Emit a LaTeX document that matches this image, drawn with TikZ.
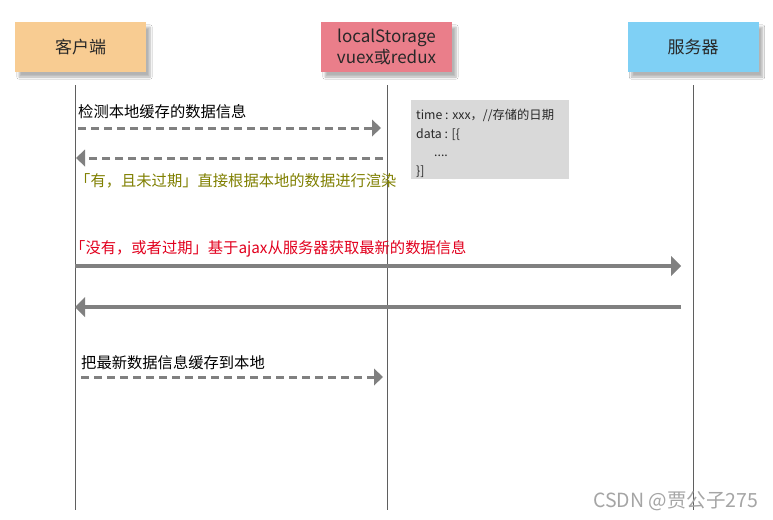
\documentclass[tikz,border=0pt]{standalone}
\usepackage{fontspec}
\setmainfont{Noto Sans CJK SC}
\usetikzlibrary{arrows.meta,shadows.blur}
\definecolor{clientc}{RGB}{248,204,146}
\definecolor{storec}{RGB}{234,126,138}
\definecolor{serverc}{RGB}{127,208,245}
\definecolor{txt}{RGB}{40,40,40}
\definecolor{arrc}{RGB}{128,128,128}
\definecolor{lifec}{RGB}{95,95,95}
\definecolor{notec}{RGB}{217,217,217}
\definecolor{olivec}{RGB}{128,128,0}
\definecolor{redc}{RGB}{226,0,30}
\definecolor{markc}{RGB}{165,165,165}
\begin{document}
\begin{tikzpicture}[x=1pt,y=-1pt,
  box/.style={minimum width=131pt, minimum height=50pt, inner sep=0pt, align=center,
    font=\fontsize{17}{21}\selectfont, text=txt,
    blur shadow={shadow xshift=4pt, shadow yshift=-5pt, shadow opacity=30, shadow blur steps=6}},
  life/.style={draw=lifec, line width=0.8pt},
  dasharrow/.style={draw=arrc, line width=3pt, dash pattern=on 8pt off 5pt,
    -{Triangle[length=9pt,width=17pt,line width=0pt]}},
  solidarrow/.style={draw=arrc, line width=3.3pt, -{Triangle[length=10pt,width=20pt,line width=0pt]}},
  lbl/.style={anchor=base west, inner sep=0pt, font=\fontsize{15.3}{18}\selectfont},
  notetext/.style={anchor=base west, inner sep=0pt, font=\fontsize{12.3}{14}\selectfont, text=txt}]
\useasboundingbox[fill=white] (0,0) rectangle (773,519);

% lifelines
\coordinate (clTop) at (75,85);   \coordinate (clBot) at (75,510);
\coordinate (lsTop) at (387,85);  \coordinate (lsBot) at (387,510);
\coordinate (svTop) at (693,85);  \coordinate (svBot) at (693,510);
\draw[life] (clTop) -- (clBot);
\draw[life] (lsTop) -- (lsBot);
\draw[life] (svTop) -- (svBot);

% header boxes
\node[box, fill=clientc] (cl) at (80.5,47) {客户端};
\node[box, fill=storec] (ls) at (386.5,47) {localStorage\\vuex或redux};
\node[box, fill=serverc] (sv) at (693,47) {服务器};

% note box
\node[fill=notec, minimum width=158pt, minimum height=79pt, inner sep=0pt] (note) at (490,139.5) {};
\node[notetext] (n1) at (416,119) {time : xxx，//存储的日期};
\node[notetext] (n2) at (416,138) {data : [\{};
\node[notetext] (n3) at (434,156) {....};
\node[notetext] (n4) at (416,175) {\}]};

% message 1
\coordinate (m1s) at (78,128);  \coordinate (m1e) at (381,128);
\draw[dasharrow] (m1s) -- (m1e);
\node[lbl, text=black] (l1) at (78,117) {检测本地缓存的数据信息};

% message 2
\coordinate (m2s) at (383,158); \coordinate (m2e) at (76,158);
\draw[dasharrow] (m2s) -- (m2e);
\node[lbl, text=olivec] (l2) at (75,186) {「有，且未过期」直接根据本地的数据进行渲染};

% message 3
\node[lbl, text=redc] (l3) at (70,253) {「没有，或者过期」基于ajax从服务器获取最新的数据信息};
\coordinate (m3s) at (75,266); \coordinate (m3e) at (681,266);
\draw[solidarrow] (m3s) -- (m3e);

% message 4
\coordinate (m4s) at (681,307); \coordinate (m4e) at (75,307);
\draw[solidarrow] (m4s) -- (m4e);

% message 5
\node[lbl, text=black] (l5) at (81,368) {把最新数据信息缓存到本地};
\coordinate (m5s) at (81,377); \coordinate (m5e) at (383,377);
\draw[dasharrow] (m5s) -- (m5e);

% watermark
\node[anchor=base west, inner sep=0pt, text=markc, font=\fontsize{19.5}{22}\selectfont] (wm) at (593,507) {CSDN @贾公子275};
\end{tikzpicture}
\end{document}
